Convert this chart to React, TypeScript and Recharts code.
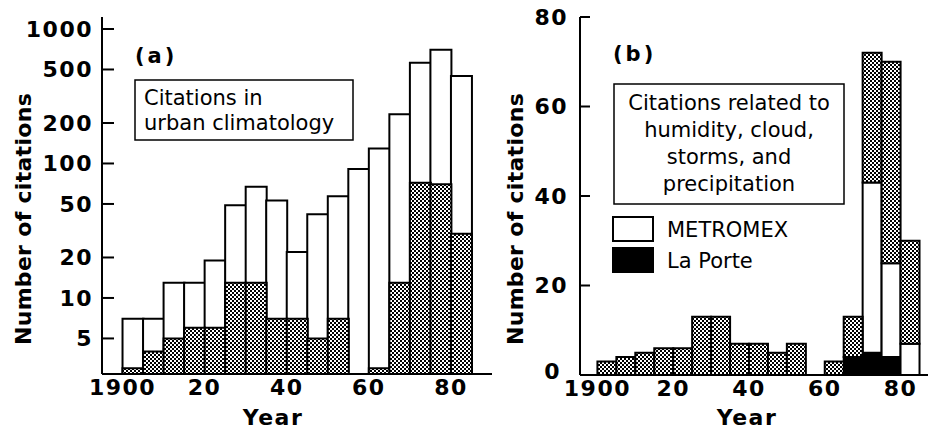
import React from 'react';
import { BarChart, Bar, XAxis, YAxis } from 'recharts';

// 5-year bins (start year)
const binStarts = [1900, 1905, 1910, 1915, 1920, 1925, 1930, 1935, 1940, 1945, 1950, 1955, 1960, 1965, 1970, 1975, 1980];
// (a) citations in urban climatology (total) and those related to humidity/cloud/storms/precip
const totalCitations = [7, 7, 13, 13, 19, 49, 67, 53, 22, 42, 57, 91, 129, 232, 560, 700, 447];
const humidityCitations = [3, 4, 5, 6, 6, 13, 13, 7, 7, 5, 7, null, 3, 13, 72, 70, 30];
// (b) breakdown of humidity-related citations
const laPorte = [0, 0, 0, 0, 0, 0, 0, 0, 0, 0, 0, 0, 0, 4, 5, 4, 0];
const metromex = [0, 0, 0, 0, 0, 0, 0, 0, 0, 0, 0, 0, 0, 0, 38, 21, 7];
const otherHumidity = [3, 4, 5, 6, 6, 13, 13, 7, 7, 5, 7, 0, 3, 9, 29, 45, 23];

const yearTicks = [1900, 1920, 1940, 1960, 1980];
const topYearTicks = [1920, 1940, 1960, 1980];
const logTicks = [5, 10, 20, 50, 100, 200, 500, 1000];
const linTicks = [0, 20, 40, 60, 80];

const FONT = '"DejaVu Sans", Verdana, sans-serif';
const tickStyle = { fill: '#000', fontSize: 22, fontWeight: 700, fontFamily: FONT, letterSpacing: 1.5 };
const line = { stroke: '#000', strokeWidth: 2 };
const fmtYear = (v: number) => (v === 1900 ? '1900' : String(v % 100));

const dataA = binStarts.map((s, i) => ({ mid: s + 2.5, total: totalCitations[i], humid: humidityCitations[i] }));
const dataB = binStarts.map((s, i) => ({ mid: s + 2.5, laporte: laPorte[i], metromex: metromex[i], other: otherHumidity[i] }));

const Stipple = ({ id }: { id: string }) => (
  <defs>
    <pattern id={id} width={4} height={4} patternUnits="userSpaceOnUse">
      <rect x={0} y={0} width={4} height={4} fill="#fff" />
      <rect x={0} y={0} width={2} height={2} fill="#000" />
      <rect x={2} y={2} width={2} height={2} fill="#000" />
    </pattern>
  </defs>
);

const LinTick = (props: any) => {
  const { x, y, payload } = props;
  const isZero = payload.value === 0;
  return (
    <text x={x - (isZero ? 7 : 0)} y={y - (isZero ? 4 : 0)} dy="0.355em" textAnchor="end"
      fill="#000" fontSize={22} fontWeight={700} fontFamily={FONT} letterSpacing={1.5}>
      {payload.value}
    </text>
  );
};

const boxText = { fontFamily: FONT, fontSize: 21, fill: '#000' };
const boldText = { fontFamily: FONT, fontWeight: 700, fill: '#000' };

const domA: [number, number] = [1895, 1990];
const domB: [number, number] = [1895.4, 1989.1];

export default function App() {
  return (
    <div style={{ position: 'absolute', left: 0, top: 0, width: 928, height: 431, overflow: 'hidden', background: '#fff' }}>
      <div style={{ position: 'absolute', left: 0, top: 0 }}>
        <BarChart width={500} height={431} data={dataA} margin={{ top: 17, right: 8, left: 0, bottom: 27 }} barCategoryGap={0} barGap={0}>
          <Stipple id="stippleA" />
          <XAxis xAxisId="b" dataKey="mid" type="number" domain={domA} allowDataOverflow ticks={yearTicks} interval={0}
            tickFormatter={fmtYear} tickSize={0} tickMargin={5} height={30} axisLine={line} tickLine={false} tick={tickStyle} />
          <XAxis xAxisId="h" dataKey="mid" type="number" domain={domA} allowDataOverflow hide />
          <XAxis xAxisId="t" orientation="top" type="number" domain={domA} allowDataOverflow ticks={topYearTicks} interval={0}
            tick={false} tickSize={-12} height={0} axisLine={line} tickLine={line} />
          <YAxis yAxisId="l" type="number" scale="log" domain={[2.72, 1228]} allowDataOverflow ticks={logTicks} interval={0}
            width={102} tickSize={-12} tickMargin={21} axisLine={line} tickLine={line} tick={tickStyle} />
          <YAxis yAxisId="r" orientation="right" type="number" scale="log" domain={[2.72, 1228]} allowDataOverflow ticks={logTicks} interval={0}
            width={0} tickSize={-12} tick={false} axisLine={line} tickLine={line} />
          <Bar xAxisId="b" yAxisId="l" dataKey="total" fill="#fff" stroke="#000" strokeWidth={2} isAnimationActive={false} />
          <Bar xAxisId="h" yAxisId="l" dataKey="humid" fill="url(#stippleA)" stroke="#000" strokeWidth={2} isAnimationActive={false} />
          <text x={135} y={63} {...boldText} fontSize={21} letterSpacing={3}>(a)</text>
          <rect x={135} y={80} width={218} height={60} fill="#fff" stroke="#000" strokeWidth={1.5} />
          <text x={144} y={105} {...boxText}>Citations in</text>
          <text x={144} y={130} {...boxText}>urban climatology</text>
          <text transform="translate(23,219) rotate(-90)" textAnchor="middle" dominantBaseline="central" {...boldText} fontSize={22} letterSpacing={0.3}>Number of citations</text>
          <text x={273} y={425} textAnchor="middle" {...boldText} fontSize={22} letterSpacing={1.5}>Year</text>
        </BarChart>
      </div>
      <div style={{ position: 'absolute', left: 470, top: 0 }}>
        <BarChart width={470} height={431} data={dataB} margin={{ top: 17, right: 5, left: 0, bottom: 26 }} barCategoryGap={0} barGap={0}>
          <Stipple id="stippleB" />
          <XAxis xAxisId="b" dataKey="mid" type="number" domain={domB} allowDataOverflow ticks={yearTicks} interval={0}
            tickFormatter={fmtYear} tickSize={0} tickMargin={5} height={30} axisLine={line} tickLine={false} tick={tickStyle} />
          <XAxis xAxisId="t" orientation="top" type="number" domain={domB} allowDataOverflow ticks={topYearTicks} interval={0}
            tick={false} tickSize={-10} height={0} axisLine={line} tickLine={line} />
          <YAxis yAxisId="l" type="number" domain={[0, 80]} allowDataOverflow ticks={linTicks} interval={0}
            width={110} tickSize={-10} tickMargin={22} axisLine={line} tickLine={line} tick={LinTick} />
          <YAxis yAxisId="r" orientation="right" type="number" domain={[0, 80]} allowDataOverflow ticks={linTicks} interval={0}
            width={0} tickSize={-10} tick={false} axisLine={line} tickLine={line} />
          <Bar xAxisId="b" yAxisId="l" stackId="s" dataKey="laporte" fill="#000" stroke="#000" strokeWidth={2} isAnimationActive={false} />
          <Bar xAxisId="b" yAxisId="l" stackId="s" dataKey="metromex" fill="#fff" stroke="#000" strokeWidth={2} isAnimationActive={false} />
          <Bar xAxisId="b" yAxisId="l" stackId="s" dataKey="other" fill="url(#stippleB)" stroke="#000" strokeWidth={2} isAnimationActive={false} />
          <text x={143} y={61} {...boldText} fontSize={21} letterSpacing={3}>(b)</text>
          <rect x={144} y={84} width={230} height={120} fill="#fff" stroke="#000" strokeWidth={1.5} />
          <text x={259} y={110} textAnchor="middle" {...boxText}>Citations related to</text>
          <text x={259} y={137} textAnchor="middle" {...boxText}>humidity, cloud,</text>
          <text x={259} y={164} textAnchor="middle" {...boxText}>storms, and</text>
          <text x={259} y={191} textAnchor="middle" {...boxText}>precipitation</text>
          <rect x={143} y={217} width={40} height={24} fill="#fff" stroke="#000" strokeWidth={2} />
          <rect x={143} y={248} width={40} height={24} fill="#000" stroke="#000" strokeWidth={2} />
          <text x={197} y={237} {...boxText}>METROMEX</text>
          <text x={197} y={268} {...boxText}>La Porte</text>
          <text transform="translate(45,219) rotate(-90)" textAnchor="middle" dominantBaseline="central" {...boldText} fontSize={22} letterSpacing={0.3}>Number of citations</text>
          <text x={277} y={425} textAnchor="middle" {...boldText} fontSize={22} letterSpacing={1.5}>Year</text>
        </BarChart>
      </div>
    </div>
  );
}
